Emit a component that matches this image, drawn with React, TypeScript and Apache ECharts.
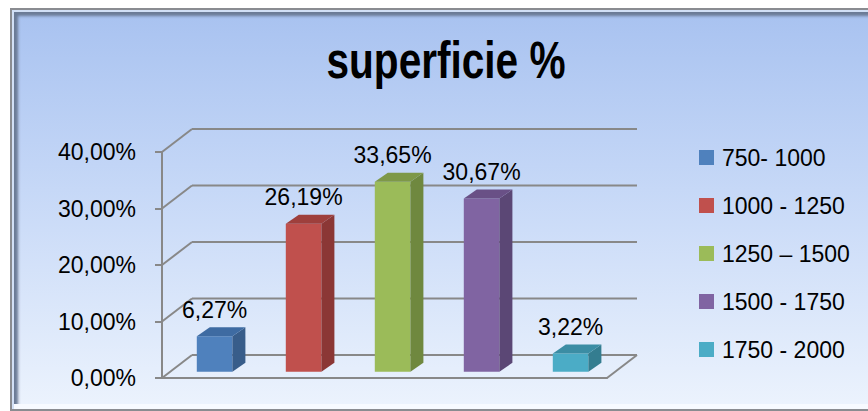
import React, { useEffect, useRef } from "react";
import * as echarts from "echarts";

const titleText = "superficie %";
const categories = ["750- 1000", "1000 - 1250", "1250 – 1500", "1500 - 1750", "1750 - 2000"];
const values = [6.27, 26.19, 33.65, 30.67, 3.22];
const yTicks = [0, 10, 20, 30, 40];
const frontColors = ["#4f81bd", "#c0504d", "#9bbb59", "#8064a2", "#4bacc6"];
const sideColors = ["#385d8a", "#8b3735", "#6f883f", "#5b4775", "#347d90"];
const topColors = ["#3e6ba2", "#9e3f3c", "#7e9848", "#695086", "#3b8da4"];

const FONT = "'Liberation Sans', Arial, sans-serif";
const WALL_DX = 30;
const WALL_DY = -23;
const BAR_POS = 0.27;
const BAR_DX = 13;
const BAR_DY = -9;
const LINE = "#888888";

const fmt = (v: number) => v.toFixed(2).replace(".", ",") + "%";

export default function App() {
  const ref = useRef<HTMLDivElement>(null);
  useEffect(() => {
    if (!ref.current) return;
    const chart = echarts.init(ref.current, null, { renderer: "svg" });

    const wallSeries: any = {
      type: "custom",
      name: "walls",
      z: 1,
      silent: true,
      data: yTicks.map((t) => [0, t]),
      renderItem: (params: any, api: any) => {
        const cs = params.coordSys;
        const v = api.value(1);
        const y = api.coord([0, v])[1];
        const style = { stroke: LINE, lineWidth: 2, fill: null };
        const children: any[] = [
          { type: "line", shape: { x1: cs.x, y1: y, x2: cs.x + WALL_DX, y2: y + WALL_DY }, style },
          { type: "line", shape: { x1: cs.x + WALL_DX, y1: y + WALL_DY, x2: cs.x + WALL_DX + cs.width, y2: y + WALL_DY }, style },
        ];
        if (v === 0) {
          children.push({ type: "line", shape: { x1: cs.x + cs.width, y1: y, x2: cs.x + cs.width + WALL_DX, y2: y + WALL_DY }, style });
        }
        return { type: "group", children };
      },
    };

    const barSeries = categories.map((name, i) => ({
      type: "custom",
      name,
      z: 5,
      itemStyle: { color: frontColors[i] },
      data: [[i, values[i]]],
      renderItem: (params: any, api: any) => {
        const idx = api.value(0);
        const val = api.value(1);
        const base = api.coord([idx, 0]);
        const top = api.coord([idx, val]);
        const bw = api.size([1, 0])[0] * 0.4;
        const ox = WALL_DX * BAR_POS;
        const oy = WALL_DY * BAR_POS;
        const x0 = base[0] - bw / 2 + ox;
        const x1 = x0 + bw;
        const yb = base[1] + oy;
        const yt = top[1] + oy;
        return {
          type: "group",
          children: [
            { type: "rect", shape: { x: x0, y: yt, width: bw, height: yb - yt }, style: { fill: frontColors[i] } },
            {
              type: "polygon",
              shape: { points: [[x1, yb], [x1 + BAR_DX, yb + BAR_DY], [x1 + BAR_DX, yt + BAR_DY], [x1, yt]] },
              style: { fill: sideColors[i] },
            },
            {
              type: "polygon",
              shape: { points: [[x0, yt], [x1, yt], [x1 + BAR_DX, yt + BAR_DY], [x0 + BAR_DX, yt + BAR_DY]] },
              style: { fill: topColors[i] },
            },
            {
              type: "text",
              style: {
                text: fmt(val),
                x: x0 + bw / 2,
                y: yt - 15,
                align: "center",
                verticalAlign: "bottom",
                fill: "#000",
                font: `23px ${FONT}`,
              },
            },
          ],
        };
      },
    }));

    chart.setOption({
      animation: false,
      backgroundColor: "transparent",
      graphic: [
        {
          type: "text",
          x: 446,
          y: 60,
          scaleX: 0.78,
          style: {
            text: titleText,
            align: "center",
            verticalAlign: "middle",
            font: `bold 52px ${FONT}`,
            fill: "#000",
          },
        },
      ],
      legend: {
        orient: "vertical",
        left: 699,
        top: 146,
        padding: 0,
        itemWidth: 15,
        itemHeight: 15,
        itemGap: 25,
        icon: "rect",
        data: categories,
        textStyle: { fontFamily: FONT, fontSize: 23, lineHeight: 23, color: "#000", padding: [0, 0, 0, 3] },
      },
      grid: { left: 162, top: 152, width: 445, height: 226 },
      xAxis: {
        type: "category",
        data: categories,
        axisLine: { show: true, lineStyle: { color: LINE, width: 2 } },
        axisTick: { show: false },
        axisLabel: { show: false },
        splitLine: { show: false },
      },
      yAxis: {
        type: "value",
        min: 0,
        max: 40,
        interval: 10,
        axisLine: { show: true, lineStyle: { color: LINE, width: 2 } },
        axisTick: { show: true, length: 7, lineStyle: { color: LINE, width: 2 } },
        axisLabel: { margin: 26, formatter: (v: number) => fmt(v), fontFamily: FONT, fontSize: 23, color: "#000" },
        splitLine: { show: false },
      },
      series: [wallSeries, ...barSeries],
    });
    return () => chart.dispose();
  }, []);

  return (
    <div style={{ position: "absolute", left: 0, top: 0, width: 868, height: 411, overflow: "hidden", background: "#fff" }}>
      <div
        style={{
          position: "absolute",
          left: 10,
          top: 8,
          width: 890,
          height: 403,
          boxSizing: "border-box",
          border: "2px solid #8a8c91",
          background: "linear-gradient(to bottom, #a8c2f0 0%, #c6d8f7 45%, #ecf3fd 100%)",
          boxShadow:
            "inset 2px 2px 0 0 #d2e0f6, inset 0 -5px 0 0 #f7faff, inset 7px 7px 3px -1px #6b7b96",
        }}
      />
      <div ref={ref} style={{ position: "absolute", left: 0, top: 0, width: 868, height: 411 }} />
    </div>
  );
}
